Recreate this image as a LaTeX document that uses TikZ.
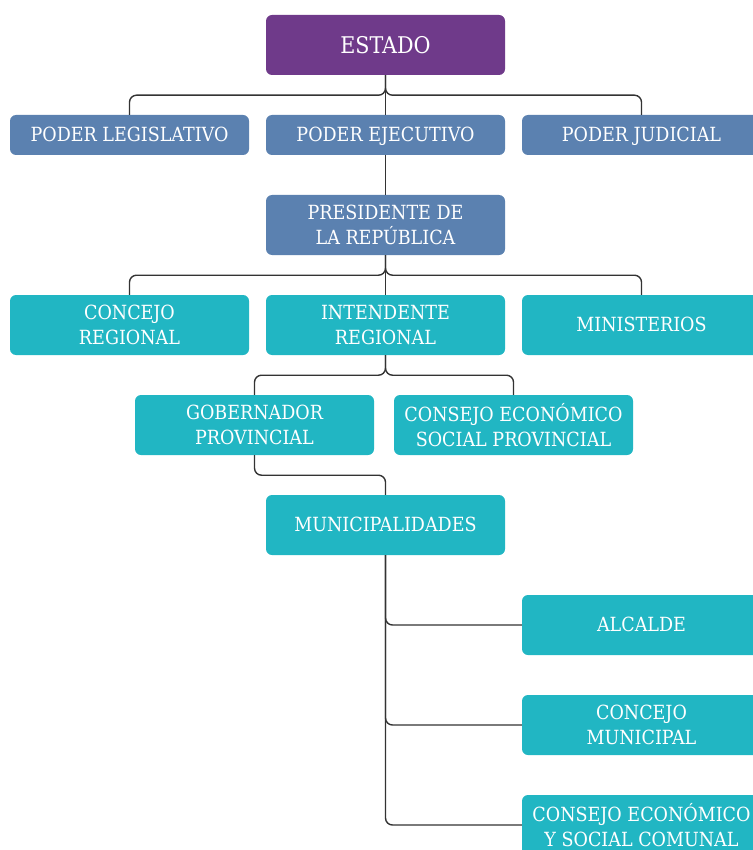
\documentclass[tikz,border=0pt]{standalone}
\usepackage{fontspec}
\setmainfont{DejaVu Serif Condensed}

\definecolor{estadocol}{HTML}{6F3A8A}
\definecolor{podercol}{HTML}{5B81B0}
\definecolor{regioncol}{HTML}{21B6C3}
\definecolor{lineacol}{HTML}{333333}

\tikzset{
    caja/.style={rounded corners=6pt, minimum width=239pt, minimum height=60pt,
        text=white, align=center, inner sep=0pt, text depth=1pt,
        font=\fontsize{19.5}{25}\selectfont},
    poder/.style={caja, fill=podercol, minimum height=40pt},
    enlace/.style={lineacol, line width=1.4pt, rounded corners=7pt}
}

\begin{document}
\begin{tikzpicture}[x=1pt, y=-1pt]
            \useasboundingbox (0,0) rectangle (752,850);

            \node[caja, fill=estadocol, font=\fontsize{23}{25}\selectfont] (estado) at (385.5,45) {ESTADO};

            \node[poder] (legis) at (129.5,135) {PODER LEGISLATIVO};
            \node[poder] (ejec) at (385.5,135) {PODER EJECUTIVO};
            \node[poder] (judic) at (641.5,135) {PODER JUDICIAL};
            \node[caja, fill=podercol] (presi) at (385.5,225) {PRESIDENTE DE\\LA REPÚBLICA};

            \node[caja, fill=regioncol] (concejo) at (129.5,325) {CONCEJO\\REGIONAL};
            \node[caja, fill=regioncol] (intend) at (385.5,325) {INTENDENTE\\REGIONAL};
            \node[caja, fill=regioncol] (minist) at (641.5,325) {MINISTERIOS};

            \node[caja, fill=regioncol] (gober) at (254.5,425) {GOBERNADOR\\PROVINCIAL};
            \node[caja, fill=regioncol] (cesp) at (513.5,425) {CONSEJO ECONÓMICO\\SOCIAL PROVINCIAL};

            \node[caja, fill=regioncol] (muni) at (385.5,525) {MUNICIPALIDADES};

            \node[caja, fill=regioncol] (alcalde) at (641.5,625) {ALCALDE};
            \node[caja, fill=regioncol] (cmuni) at (641.5,725) {CONCEJO\\MUNICIPAL};
            \node[caja, fill=regioncol] (cesc) at (641.5,825) {CONSEJO ECONÓMICO\\Y SOCIAL COMUNAL};

            % estado y poderes
            \draw[enlace] (estado.south) -- ++(0,20) -| (legis.north);
            \draw[enlace] (estado.south) -- ++(0,20) -| (judic.north);
            \draw[enlace] (estado.south) -- (ejec.north);
            \draw[enlace] (ejec.south) -- (presi.north);

            % presidente
            \draw[enlace] (presi.south) -- ++(0,20) -| (concejo.north);
            \draw[enlace] (presi.south) -- ++(0,20) -| (minist.north);
            \draw[enlace] (presi.south) -- (intend.north);

            % intendente
            \draw[enlace] (intend.south) -- ++(0,20) -| (gober.north);
            \draw[enlace] (intend.south) -- ++(0,20) -| (cesp.north);
            \draw[enlace] (gober.south) -- ++(0,20) -| (muni.north);

            % municipalidades
            \draw[enlace] (muni.south) |- (alcalde.west);
            \draw[enlace] (muni.south) |- (cmuni.west);
            \draw[enlace] (muni.south) |- (cesc.west);
        \end{tikzpicture}
\end{document}
